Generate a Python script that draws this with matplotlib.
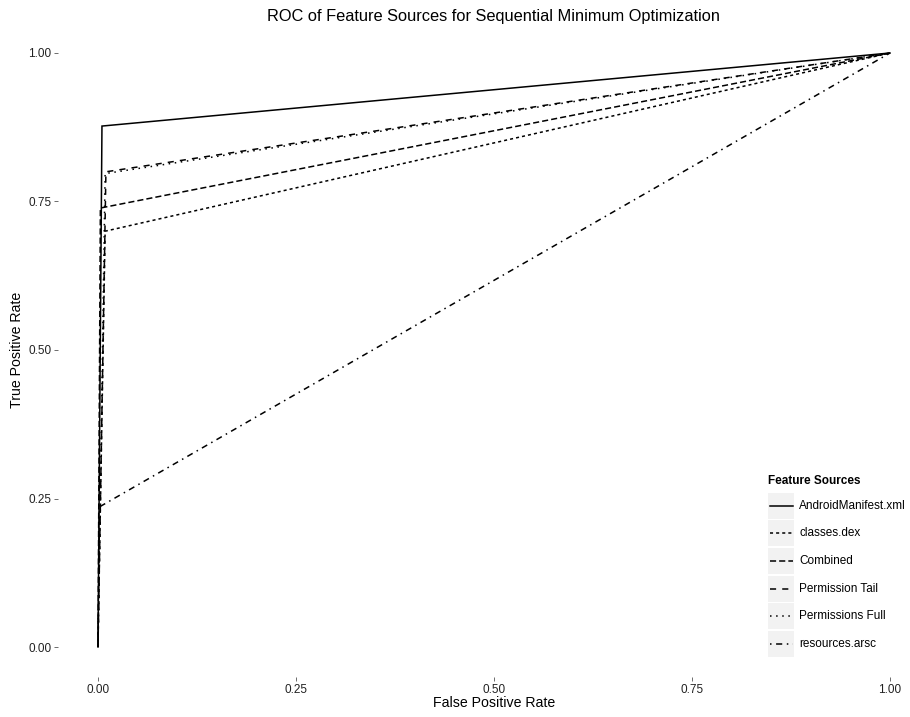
import matplotlib
matplotlib.use("Agg")
import matplotlib.pyplot as plt
from matplotlib.patches import Rectangle
from matplotlib.lines import Line2D

plt.rcParams['font.family'] = ['Liberation Sans', 'DejaVu Sans']

# ROC points (false positive rate, true positive rate) per feature source
series = ["AndroidManifest.xml", "classes.dex", "Combined",
          "Permission Tail", "Permissions Full", "resources.arsc"]
fpr_manifest = [0.0, 0.005, 1.0]
tpr_manifest = [0.0, 0.877, 1.0]
fpr_dex = [0.0, 0.009, 1.0]
tpr_dex = [0.0, 0.700, 1.0]
fpr_combined = [0.0, 0.003, 1.0]
tpr_combined = [0.0, 0.739, 1.0]
fpr_perm_tail = [0.0, 0.010, 1.0]
tpr_perm_tail = [0.0, 0.800, 1.0]
fpr_perm_full = [0.0, 0.009, 1.0]
tpr_perm_full = [0.0, 0.797, 1.0]
fpr_resources = [0.0, 0.002, 1.0]
tpr_resources = [0.0, 0.236, 1.0]

ticks = [0.0, 0.25, 0.5, 0.75, 1.0]
tick_labels = ["0.00", "0.25", "0.50", "0.75", "1.00"]

curves = [(fpr_manifest, tpr_manifest), (fpr_dex, tpr_dex),
          (fpr_combined, tpr_combined), (fpr_perm_tail, tpr_perm_tail),
          (fpr_perm_full, tpr_perm_full), (fpr_resources, tpr_resources)]

# R-style line types: solid, 22, 42, 44, 13, 1343
dashes = [None, (2, 2), (4, 2), (4, 4), (1, 3), (1, 3, 4, 3)]
lw = 1.1

W, H = 910, 717
fig = plt.figure(figsize=(W / 100, H / 100), dpi=100)
fig.patch.set_facecolor("white")

left_px, right_px, top_px, bot_px = 58.4, 929.6, 23.3, 676.7
ax = fig.add_axes([left_px / W, 1 - bot_px / H,
                   (right_px - left_px) / W, (bot_px - top_px) / H])
ax.set_xlim(-0.05, 1.05)
ax.set_ylim(-0.05, 1.05)
for s in ax.spines.values():
    s.set_visible(False)

for (x, y), d in zip(curves, dashes):
    line, = ax.plot(x, y, color="black", lw=lw, solid_joinstyle="miter")
    if d is not None:
        line.set_dashes(d)

ax.set_xticks(ticks)
ax.set_xticklabels(tick_labels)
ax.set_yticks(ticks)
ax.set_yticklabels(tick_labels)
ax.tick_params(axis="both", direction="out", length=3, width=0.6,
               color="#555555", labelsize=8.5, labelcolor="#222222", pad=2)

# Titles centred on the panel
panel_cx = (left_px + right_px) / 2 / W
fig.text(panel_cx, 1 - 16 / H, "ROC of Feature Sources for Sequential Minimum Optimization",
         ha="center", va="center", fontsize=11.8)
fig.text(panel_cx, 1 - 703 / H, "False Positive Rate", ha="center", va="center", fontsize=10.2)
fig.text(17 / W, 1 - 350 / H, "True Positive Rate", ha="center", va="center",
         rotation=90, fontsize=10.2)

# Legend drawn with grey key backgrounds
def fx(px):
    return px / W

def fy(py):
    return 1 - py / H

fig.text(fx(768), fy(481.5), "Feature Sources", ha="left", va="center",
         fontsize=8.5, fontweight="bold")
row0, row_step = 505.7, 27.65
key_l, key_r = 768, 794
for i, (name, d) in enumerate(zip(series, dashes)):
    cy = row0 + i * row_step
    fig.patches.append(Rectangle((fx(key_l), fy(cy + 13)), fx(key_r) - fx(key_l),
                                 (26 / H), transform=fig.transFigure,
                                 facecolor="#F2F2F2", edgecolor="none"))
    ln = Line2D([fx(key_l + 1.5), fx(key_r - 1.5)], [fy(cy), fy(cy)],
                transform=fig.transFigure, color="black", lw=lw)
    if d is not None:
        ln.set_dashes(d)
    fig.lines.append(ln)
    fig.text(fx(799), fy(cy), name, ha="left", va="center", fontsize=8.5)

fig.savefig("out.png", dpi=100, facecolor="white")
